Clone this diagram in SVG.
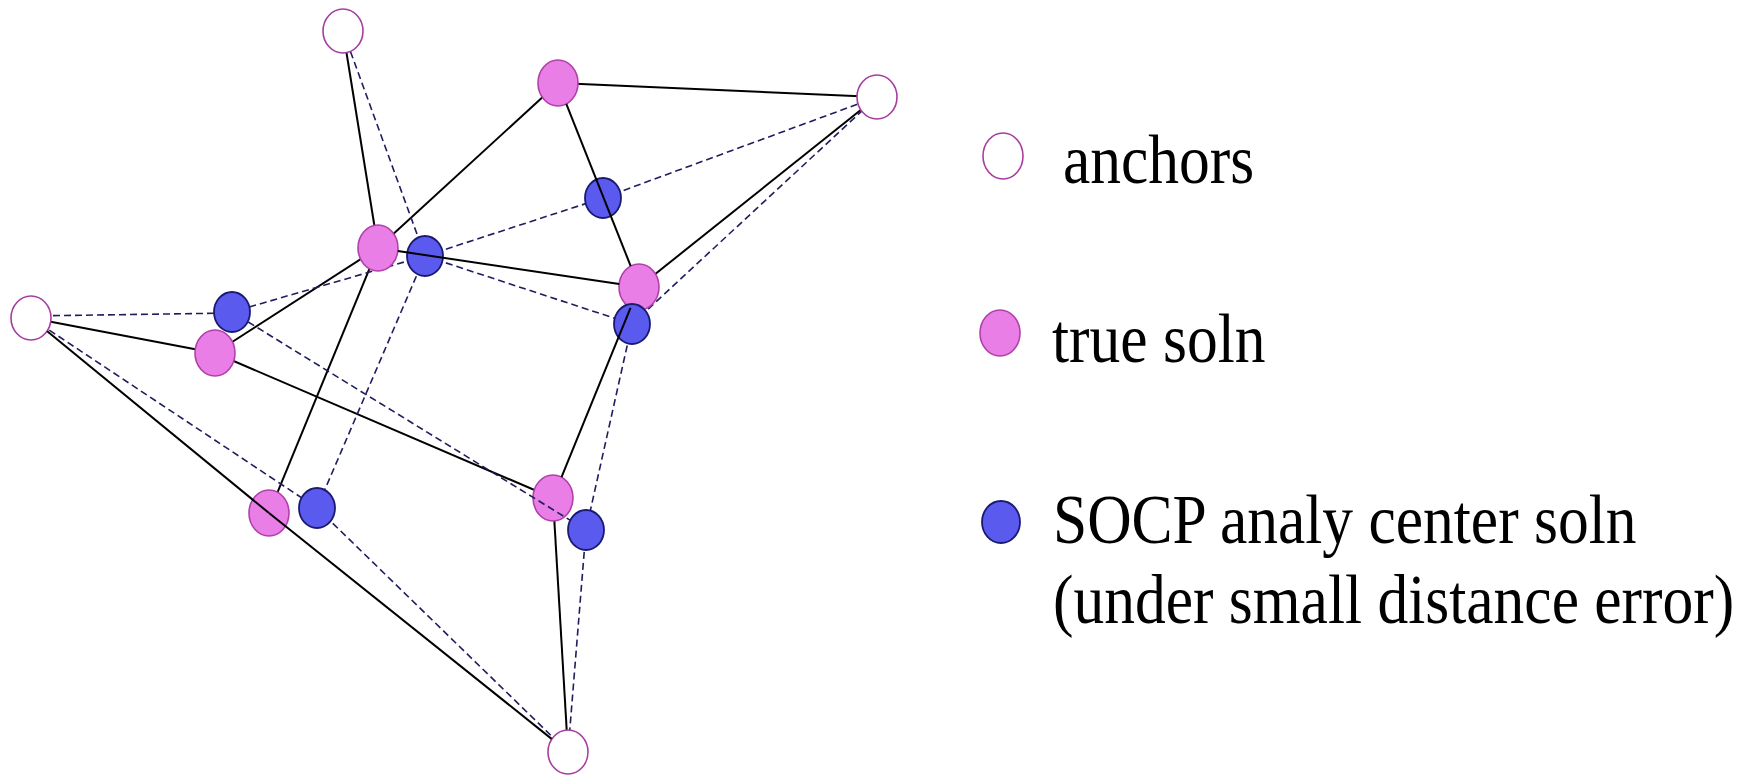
<svg xmlns="http://www.w3.org/2000/svg" width="1749" height="778" viewBox="0 0 1749 778">
  <style>
    .solid { stroke: #000; stroke-width: 2; fill: none; }
    .dash { stroke: #1e1e5e; stroke-width: 1.6; stroke-dasharray: 7 4; fill: none; }
    .anchor { fill: #ffffff; stroke: #a63ea0; stroke-width: 1.6; }
    .truth { fill: #e97fe6; stroke: #b040aa; stroke-width: 1.6; }
    .socp { fill: #5a5aef; stroke: #1a1a70; stroke-width: 1.8; }
    .label { font-family: "Liberation Serif", "Times New Roman", serif; font-size: 61.5px; fill: #000; }
  </style>
  <rect width="1749" height="778" fill="#ffffff"/>

  <!-- edges running beneath the nodes, centre to centre -->
  <g id="connectors">
    <!-- true network (solid) -->
    <line class="solid" x1="343" y1="31" x2="378" y2="248"/>
    <line class="solid" x1="558" y1="83" x2="877" y2="97"/>
    <line class="solid" x1="558" y1="83" x2="378" y2="248"/>
    <line class="solid" x1="378" y1="248" x2="215" y2="353"/>
    <line class="solid" x1="378" y1="248" x2="269" y2="513"/>
    <line class="solid" x1="31" y1="318" x2="215" y2="353"/>
    <line class="solid" x1="215" y1="353" x2="553" y2="498"/>
    <line class="solid" x1="639" y1="287" x2="877" y2="97"/>
    <line class="solid" x1="553" y1="498" x2="568" y2="752"/>
    <!-- SOCP network (dashed) -->
    <line class="dash" x1="343" y1="31" x2="425" y2="256"/>
    <line class="dash" x1="603" y1="198" x2="877" y2="97"/>
    <line class="dash" x1="425" y1="256" x2="603" y2="198"/>
    <line class="dash" x1="425" y1="256" x2="232" y2="312"/>
    <line class="dash" x1="425" y1="256" x2="632" y2="324"/>
    <line class="dash" x1="425" y1="256" x2="317" y2="508"/>
    <line class="dash" x1="31" y1="316" x2="232" y2="313"/>
    <line class="dash" x1="31" y1="318" x2="317" y2="508"/>
    <line class="dash" x1="317" y1="508" x2="568" y2="752"/>
    <line class="dash" x1="632" y1="324" x2="877" y2="97"/>
    <line class="dash" x1="632" y1="324" x2="586" y2="530"/>
    <line class="dash" x1="586" y1="530" x2="568" y2="752"/>
  </g>

  <!-- anchors -->
  <g id="anchor-1"><ellipse class="anchor" cx="343" cy="31" rx="20" ry="22"/></g>
  <g id="anchor-2"><ellipse class="anchor" cx="877" cy="97" rx="20" ry="22"/></g>
  <g id="anchor-3"><ellipse class="anchor" cx="31" cy="318" rx="20" ry="22"/></g>
  <g id="anchor-4"><ellipse class="anchor" cx="568" cy="752" rx="20" ry="22"/></g>

  <!-- true sensor positions -->
  <g id="true-1"><ellipse class="truth" cx="558" cy="83" rx="20" ry="23"/></g>
  <g id="true-2"><ellipse class="truth" cx="378" cy="248" rx="20" ry="23"/></g>
  <g id="true-3"><ellipse class="truth" cx="639" cy="287" rx="20" ry="23"/></g>
  <g id="true-4"><ellipse class="truth" cx="215" cy="353" rx="20" ry="23"/></g>
  <g id="true-5"><ellipse class="truth" cx="553" cy="498" rx="20" ry="23"/></g>
  <g id="true-6"><ellipse class="truth" cx="269" cy="513" rx="20" ry="23"/></g>

  <!-- SOCP analytic-centre estimates -->
  <g id="socp-1"><ellipse class="socp" cx="603" cy="198" rx="18" ry="20"/></g>
  <g id="socp-2"><ellipse class="socp" cx="425" cy="256" rx="18" ry="20"/></g>
  <g id="socp-3"><ellipse class="socp" cx="232" cy="312" rx="18" ry="20"/></g>
  <g id="socp-4"><ellipse class="socp" cx="632" cy="324" rx="18" ry="20"/></g>
  <g id="socp-5"><ellipse class="socp" cx="317" cy="508" rx="18" ry="20"/></g>
  <g id="socp-6"><ellipse class="socp" cx="586" cy="530" rx="18" ry="20"/></g>

  <!-- edges that cross over intermediate nodes, trimmed at their ends -->
  <g id="connectors-over">
    <line class="solid" x1="566.3" y1="103.9" x2="630.7" y2="266.1"/>
    <line class="solid" x1="397.8" y1="251" x2="619.2" y2="284"/>
    <line class="solid" x1="630.5" y1="307.8" x2="561.5" y2="477.2"/>
    <line class="solid" x1="47.2" y1="331.3" x2="269" y2="513"/>
    <line class="solid" x1="269" y1="513" x2="551.6" y2="738.9"/>
    <line class="dash" x1="248.2" y1="322" x2="569.8" y2="520"/>
  </g>

  <!-- legend: serif labels stretched slightly taller than normal -->
  <g id="legend-anchors">
    <ellipse class="anchor" cx="1003" cy="156" rx="20" ry="23"/>
    <text class="label" transform="translate(1063 183) scale(1 1.14)">anchors</text>
  </g>
  <g id="legend-true">
    <ellipse class="truth" cx="1000" cy="333" rx="20" ry="23"/>
    <text class="label" transform="translate(1052 362) scale(1 1.14)">true soln</text>
  </g>
  <g id="legend-socp">
    <ellipse class="socp" cx="1001" cy="522" rx="19" ry="21"/>
    <text class="label" transform="translate(1053 543) scale(1 1.14)">SOCP analy center soln</text>
    <text class="label" transform="translate(1053 623) scale(1 1.14)">(under small distance error)</text>
  </g>
</svg>
